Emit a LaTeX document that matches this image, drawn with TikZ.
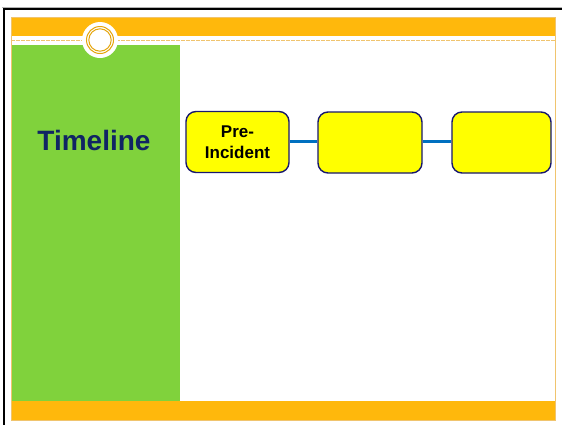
\documentclass[tikz,border=0pt]{standalone}
\usepackage{fontspec}
\setmainfont{Liberation Sans}
\begin{document}
\definecolor{bandorange}{RGB}{255,184,12}
\definecolor{paneGreen}{RGB}{128,210,60}
\definecolor{titlenavy}{RGB}{16,36,100}
\definecolor{boxnavy}{RGB}{24,24,110}
\definecolor{boxyellow}{RGB}{255,255,0}
\definecolor{linkblue}{RGB}{0,112,192}
\definecolor{edgeorange}{RGB}{240,196,110}
\begin{tikzpicture}[x=1pt,y=-1pt,
  stage/.style={draw=boxnavy,fill=boxyellow,line width=1.4pt,rounded corners=10pt,
    minimum width=#1,minimum height=61pt,inner sep=0pt,align=center,
    font=\fontsize{17}{21.5}\selectfont\bfseries},
  stage/.default=103pt,
  link/.style={draw=linkblue,line width=3pt}]
\useasboundingbox (0,0) rectangle (562,424);
\fill[white] (0,0) rectangle (562,424);
% outer frame
\draw[gray!60,line width=1pt] (2,7) -- (580,7);
\draw[black,line width=2pt] (4,440) -- (4,9) -- (580,9);
% slide bands and side pane
\fill[bandorange] (11,17) rectangle (555,36);
\fill[paneGreen] (11,45) rectangle (180,401);
\fill[bandorange] (11,401) rectangle (555,420);
\draw[edgeorange,line width=0.8pt] (11,17) rectangle (555,420);
\draw[edgeorange,line width=1pt,dash pattern=on 4pt off 1pt] (11,40) -- (555,40);
% ring ornament
\fill[white] (100,40) circle (18);
\draw[bandorange!90!black,line width=1pt] (100,40) circle (13.5);
\draw[bandorange!90!black,line width=1pt] (100,40) circle (11.2);
% title
\node[text=titlenavy,font=\fontsize{28}{32}\selectfont\bfseries] (title) at (94,140) {Timeline};
% stages
\node[stage=103pt] (s1) at (237.5,142) {Pre-\\Incident};
\node[stage=104pt] (s2) at (370,142.5) {};
\node[stage=99pt] (s3) at (501.5,142.5) {};
\draw[link] (s1.east |- 0,141) -- (s2.west |- 0,141);
\draw[link] (s2.east |- 0,141) -- (s3.west |- 0,141);
\end{tikzpicture}
\end{document}
